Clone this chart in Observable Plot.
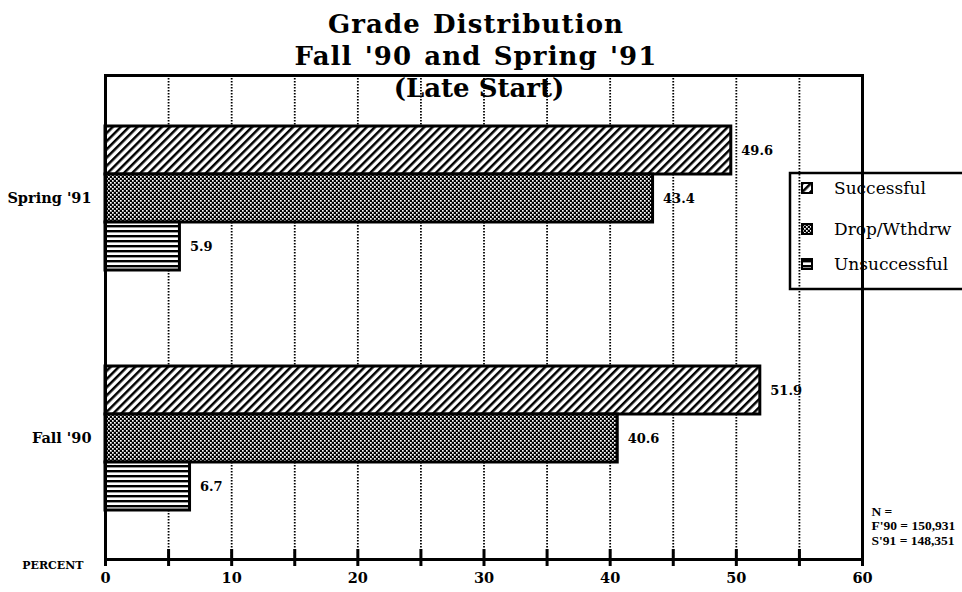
<!DOCTYPE html>
<html>
<head>
<meta charset="utf-8">
<script src="https://cdn.jsdelivr.net/npm/d3@7"></script>
<script src="https://cdn.jsdelivr.net/npm/@observablehq/plot@0.6"></script>
<style>
  html, body { margin: 0; padding: 0; background: #fff; overflow: hidden; }
  #wrap { position: relative; width: 962px; height: 592px; overflow: hidden; }
</style>
</head>
<body>
<svg width="0" height="0" style="position:absolute">
  <defs>
    <pattern id="pat-succ" patternUnits="userSpaceOnUse" width="5.8" height="5.8" patternTransform="rotate(45)">
      <rect width="5.8" height="5.8" fill="#fff"/>
      <rect width="2.5" height="5.8" fill="#000"/>
    </pattern>
    <pattern id="pat-drop" patternUnits="userSpaceOnUse" width="4" height="4">
      <rect width="4" height="4" fill="#000"/>
      <rect width="1.7" height="1.7" fill="#fff"/>
      <rect x="2" y="2" width="1.7" height="1.7" fill="#fff"/>
    </pattern>
    <pattern id="pat-uns" patternUnits="userSpaceOnUse" width="5" height="5">
      <rect width="5" height="5" fill="#fff"/>
      <rect width="5" height="2.4" fill="#000"/>
    </pattern>
  </defs>
</svg>
<div id="wrap"></div>
<script>
// ---- data ----
const terms = ["Spring '91", "Fall '90"];
const categories = ["Successful", "Drop/Wthdrw", "Unsuccessful"];
const springPct = [49.6, 43.4, 5.9];
const fallPct = [51.9, 40.6, 6.7];
const xTickLabels = [0, 10, 20, 30, 40, 50, 60];
const xTickMarks = [0, 5, 10, 15, 20, 25, 30, 35, 40, 45, 50, 55, 60];
const gridValues = [5, 10, 15, 20, 25, 30, 35, 40, 45, 50, 55];
const titleLines = ["Grade Distribution", "Fall '90 and Spring '91", "(Late Start)"];
const axisTitle = "PERCENT";
const footnoteLines = ["N =", "F'90 = 150,931", "S'91 = 148,351"];
const patternIds = ["pat-succ", "pat-drop", "pat-uns"];

// ---- build table ----
const valuesByTerm = {[terms[0]]: springPct, [terms[1]]: fallPct};
const keyOf = (t, c) => t + " · " + c;
const rows = terms.flatMap(t => categories.map((c, i) => ({
  term: t, category: c, value: valuesByTerm[t][i], key: keyOf(t, c), fill: `url(#${patternIds[i]})`
})));
const yDomain = [
  ...categories.map(c => keyOf(terms[0], c)),
  "gap 1", "gap 2",
  ...categories.map(c => keyOf(terms[1], c))
];

const serif = "'DejaVu Serif', serif";
const titleOpts = {text: d => d, frameAnchor: "top", lineAnchor: "bottom",
  fontFamily: serif, fontWeight: "bold", fontSize: 26, fill: "#000"};

const chart = Plot.plot({
  width: 962,
  height: 592,
  marginTop: 75,
  marginBottom: 33,
  marginLeft: 105,
  marginRight: 100,
  style: {background: "#fff", overflow: "visible"},
  x: {domain: [0, 60], axis: null},
  y: {type: "band", domain: yDomain, range: [123, 512], padding: 0, axis: null},
  color: {type: "identity"},
  marks: [
    Plot.ruleX(gridValues, {x: d => d, stroke: "#000", strokeWidth: 1.8, strokeDasharray: "1.5,1.5"}),
    Plot.barX(rows, {x: "value", y: "key", fill: "fill", stroke: "#000", strokeWidth: 3}),
    Plot.frame({stroke: "#000", strokeWidth: 3}),
    Plot.tickX(xTickMarks, {x: d => d, stroke: "#000", strokeWidth: 3, insetTop: 474, insetBottom: -7}),
    Plot.text(rows, {x: "value", y: "key", text: d => d.value.toFixed(1), dx: 10, textAnchor: "start",
      fontFamily: serif, fontWeight: "bold", fontSize: 13, fill: "#000"}),
    Plot.text(terms, {x: 0, y: t => keyOf(t, categories[1]), text: d => d, dx: -14, textAnchor: "end",
      fontFamily: serif, fontWeight: "bold", fontSize: 14.5, fill: "#000"}),
    Plot.text(xTickLabels, {x: d => d, text: d => String(d), frameAnchor: "bottom", dy: 23,
      fontFamily: serif, fontWeight: "bold", fontSize: 14.5, fill: "#000"}),
    Plot.text([axisTitle], {text: d => d, frameAnchor: "bottom-left", dx: -22, dy: 9, textAnchor: "end",
      fontFamily: serif, fontWeight: "bold", fontSize: 11, fill: "#000"}),
    Plot.text([titleLines[0]], {...titleOpts, dx: -8, dy: -43}),
    Plot.text([titleLines[1]], {...titleOpts, dx: -8, dy: -11}),
    Plot.text([titleLines[2]], {...titleOpts, dx: -5, dy: 21}),
    Plot.text([footnoteLines.join("\n")], {text: d => d, frameAnchor: "bottom-right", dx: 9, dy: -54,
      textAnchor: "start", lineAnchor: "top", lineHeight: 1.07,
      fontFamily: "'Liberation Serif', serif", fontWeight: "bold", fontSize: 13.5, fill: "#000"})
  ]
});
document.getElementById("wrap").appendChild(chart);

// wider tracking for the two upper title lines (the original face is broad)
d3.select(chart).selectAll("text")
  .filter(function() { return titleLines.slice(0, 2).includes(this.textContent); })
  .attr("letter-spacing", "1.1px").attr("word-spacing", "2px");

// ---- legend: drawn underneath everything, so the frame and grid cross it ----
const legendBox = {x: 790, y: 173, w: 220, h: 116};
const legendCenters = [188, 229, 264];
const lg = d3.select(chart).insert("g", ":first-child").attr("aria-label", "legend");
lg.append("rect").attr("x", legendBox.x).attr("y", legendBox.y)
  .attr("width", legendBox.w).attr("height", legendBox.h)
  .attr("fill", "#fff").attr("stroke", "#000").attr("stroke-width", 2.5);
categories.forEach((c, i) => {
  lg.append("rect").attr("x", 802).attr("y", legendCenters[i] - 5)
    .attr("width", 10).attr("height", 10)
    .attr("fill", `url(#${patternIds[i]})`).attr("stroke", "#000").attr("stroke-width", 2);
  lg.append("text").attr("x", 834).attr("y", legendCenters[i]).attr("dy", "0.35em")
    .attr("text-anchor", "start")
    .attr("font-family", serif).attr("font-size", 17).attr("fill", "#000").text(c);
});
</script>
</body>
</html>
